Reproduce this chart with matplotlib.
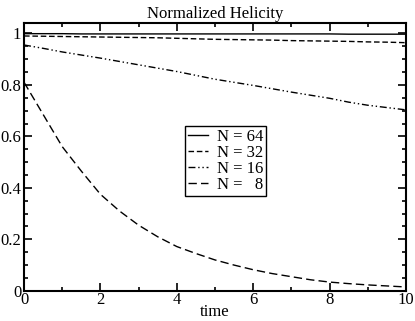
import matplotlib
matplotlib.use('Agg')
import matplotlib.pyplot as plt
from matplotlib.ticker import MultipleLocator

t = [0, 0.5, 1, 1.5, 2, 2.5, 3, 3.5, 4, 4.5, 5, 5.5, 6, 6.5, 7, 7.5, 8, 8.5, 9, 9.5, 10]
h64 = [0.999, 0.999, 0.999, 0.998, 0.998, 0.998, 0.998, 0.998, 0.998, 0.998, 0.998,
       0.998, 0.998, 0.998, 0.998, 0.998, 0.998, 0.997, 0.997, 0.997, 0.997]
h32 = [0.990, 0.989, 0.988, 0.987, 0.986, 0.985, 0.984, 0.983, 0.981, 0.979, 0.977,
       0.976, 0.975, 0.974, 0.972, 0.971, 0.970, 0.969, 0.967, 0.966, 0.964]
h16 = [0.955, 0.942, 0.928, 0.916, 0.904, 0.891, 0.878, 0.865, 0.852, 0.837, 0.822,
       0.810, 0.798, 0.785, 0.772, 0.760, 0.748, 0.733, 0.721, 0.712, 0.703]
h8 = [0.81, 0.685, 0.56, 0.465, 0.375, 0.31, 0.255, 0.21, 0.172, 0.145, 0.12,
      0.10, 0.082, 0.067, 0.055, 0.043, 0.034, 0.028, 0.023, 0.019, 0.015]

plt.rcParams['font.family'] = ['Liberation Serif', 'DejaVu Serif']

fig = plt.figure(figsize=(4.15, 3.21), dpi=100)
ax = fig.add_axes([0.058, 0.094, 0.920, 0.834])

ax.plot(t, h64, color='black', lw=1.0, ls='-', label='N = 64')
ax.plot(t, h32, color='black', lw=1.0, ls=(0, (4, 2)), label='N = 32')
ax.plot(t, h16, color='black', lw=1.0, ls=(0, (5, 2, 1, 2, 1, 2)), label='N = 16')
ax.plot(t, h8, color='black', lw=1.0, ls=(0, (6, 3)), label='N =   8')

ax.set_xlim(0, 10)
ax.set_ylim(0, 1.04)
ax.xaxis.set_minor_locator(MultipleLocator(1))
ax.yaxis.set_minor_locator(MultipleLocator(0.05))
ax.set_xticks([0, 2, 4, 6, 8, 10])
ax.set_xticklabels(['0', '2', '4', '6', '8', '10'])
ax.set_yticks([0, 0.2, 0.4, 0.6, 0.8, 1.0])
ax.set_yticklabels(['0', '0.2', '0.4', '0.6', '0.8', '1'])
ax.tick_params(which='both', direction='in', top=True, right=True, labelsize=12, width=1.2)
ax.tick_params(which='major', length=6)
ax.tick_params(axis='x', which='major', pad=1)
ax.tick_params(axis='y', which='major', pad=2)
ax.tick_params(which='minor', length=3)
for s in ax.spines.values():
    s.set_linewidth(1.5)

ax.set_title('Normalized Helicity', fontsize=12, pad=4)
ax.set_xlabel('time', fontsize=12, labelpad=-3)

leg = ax.legend(loc='upper left', bbox_to_anchor=(0.40, 0.648), fontsize=12,
                handlelength=1.2, handletextpad=0.5, labelspacing=0.0,
                borderpad=0.2, fancybox=False, framealpha=1)
leg.get_frame().set_edgecolor('black')
leg.get_frame().set_linewidth(1.0)

fig.savefig('out.png', dpi=100)
